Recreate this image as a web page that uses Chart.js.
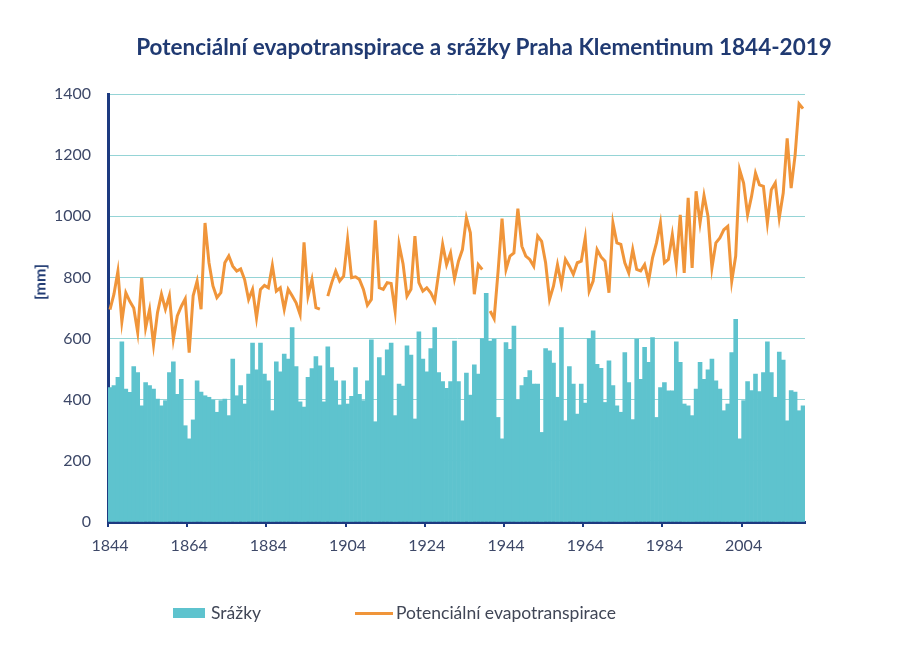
<!DOCTYPE html>
<html>
<head>
<meta charset="utf-8">
<script src="https://cdn.jsdelivr.net/npm/chart.js@4.4.1/dist/chart.umd.min.js"></script>
<style>
html,body{margin:0;padding:0;background:#ffffff;}
#wrap{position:relative;width:904px;height:645px;overflow:hidden;font-family:Lato,"Open Sans",sans-serif;}
#c{position:absolute;left:0;top:0;}
#title{position:absolute;left:84px;width:800px;top:33px;text-align:center;font-weight:bold;font-size:22.5px;line-height:28px;color:#203a72;white-space:nowrap;}
#ytitle{position:absolute;left:39px;top:282px;transform:translate(-50%,-50%) rotate(-90deg);font-weight:bold;font-size:16px;color:#203a72;white-space:nowrap;}
.lg{position:absolute;font-size:17.5px;line-height:22px;color:#404656;white-space:nowrap;}
</style>
</head>
<body>
<div id="wrap">
<canvas id="c" width="904" height="645"></canvas>
<div id="title">Potenciální evapotranspirace a srážky Praha Klementinum 1844-2019</div>
<div id="ytitle">[mm]</div>
<div style="position:absolute;left:173px;top:608px;width:32px;height:10px;background:#5ec3ce;"></div>
<div class="lg" style="left:211px;top:602px;">Srážky</div>
<div style="position:absolute;left:355px;top:612px;width:38px;height:3px;background:#f0953a;"></div>
<div class="lg" style="left:396px;top:602px;">Potenciální evapotranspirace</div>
</div>
<script>
const firstYear = 1844;
const lastYear = 2019;
const years = [];
for (let y = firstYear; y <= lastYear; y++) years.push(y);

const tickYears = [1844, 1864, 1884, 1904, 1924, 1944, 1964, 1984, 2004];
const yTicks = [0, 200, 400, 600, 800, 1000, 1200, 1400];

// Srážky (precipitation) [mm], 1844-2019
const precip = [
 440,446,473,589,435,424,508,489,380,456,   // 1844-1853
 446,435,402,380,397,489,524,418,467,315,   // 1854-1863
 272,334,462,425,413,408,399,359,397,402,   // 1864-1873
 348,533,413,446,386,484,585,498,585,484,   // 1874-1883
 462,364,524,491,549,533,636,508,393,376,   // 1884-1893
 473,502,541,511,393,573,505,462,383,462,   // 1894-1903
 386,411,505,418,397,462,596,328,538,479,   // 1904-1913
 563,585,348,451,445,576,546,337,622,533,   // 1914-1923
 491,567,636,489,459,437,459,592,459,331,   // 1924-1933
 487,415,514,484,600,748,592,598,342,272,   // 1934-1943
 587,565,641,400,446,473,495,451,451,293,   // 1944-1953
 567,560,520,408,636,331,508,451,353,451,   // 1954-1963
 389,600,625,516,503,391,527,446,380,359,   // 1964-1973
 554,456,335,598,467,571,522,603,342,440,   // 1974-1983
 456,429,429,589,522,386,380,348,435,522,   // 1984-1993
 467,498,533,462,435,364,386,554,663,272,   // 1994-2003
 397,459,430,484,427,489,589,489,408,556,   // 2004-2013
 530,331,430,425,364,380                    // 2014-2019
];

// Potenciální evapotranspirace [mm], 1844-2019 (null = missing year)
const pet = [
 695,745,820,655,750,722,700,620,799,635,   // 1844-1853
 695,580,685,745,696,740,598,674,705,730,   // 1854-1863
 554,740,788,696,978,848,772,734,750,848,   // 1864-1873
 870,837,821,828,793,728,761,668,761,774,   // 1874-1883
 766,839,755,766,696,761,740,717,679,915,   // 1884-1893
 739,793,701,696,null,739,783,821,788,804,  // 1894-1903
 924,799,802,793,761,709,728,987,766,761,   // 1904-1913
 783,780,690,908,845,739,761,935,783,755,   // 1914-1923
 766,750,723,815,908,842,880,796,853,891,   // 1924-1933
 995,946,745,842,826,null,690,665,820,992,  // 1934-1943
 826,870,880,1025,902,870,859,837,935,918,  // 1944-1953
 848,728,772,842,777,859,837,810,848,853,   // 1954-1963
 929,755,788,891,867,853,750,978,913,908,   // 1964-1973
 848,815,891,826,821,842,788,864,913,978,   // 1974-1983
 848,859,940,842,1005,815,1060,831,1082,978, // 1984-1993
 1068,1000,831,913,929,956,967,788,870,1152, // 1994-2003
 1109,1005,1065,1141,1103,1098,978,1087,1109,995, // 2004-2013
 1076,1255,1092,1200,1368,1352              // 2014-2019
];

const NAVY = '#1d3a80';
const TEXT = '#3d4868';
const GRID = '#95d4d6';
const TEAL = '#5ec3ce';
const ORANGE = '#f0953a';

Chart.defaults.font.family = 'Lato, "Open Sans", sans-serif';

new Chart(document.getElementById('c'), {
  data: {
    labels: years,
    datasets: [
      {
        type: 'line',
        label: 'Potenciální evapotranspirace',
        data: pet,
        borderColor: ORANGE,
        backgroundColor: ORANGE,
        borderWidth: 3,
        pointRadius: 0,
        tension: 0,
        spanGaps: false,
        order: 1
      },
      {
        type: 'bar',
        label: 'Srážky',
        data: precip,
        backgroundColor: TEAL,
        borderWidth: 0,
        barPercentage: 1,
        categoryPercentage: 1,
        order: 2
      }
    ]
  },
  options: {
    responsive: false,
    animation: false,
    layout: { padding: { left: 28, right: 99, top: 94, bottom: 83 } },
    plugins: {
      legend: { display: false },
      title: { display: false },
      tooltip: { enabled: false }
    },
    scales: {
      x: {
        type: 'category',
        offset: true,
        grid: {
          offset: true,
          drawOnChartArea: false,
          drawTicks: true,
          tickLength: 5,
          lineWidth: 2,
          color: (c) => tickYears.includes(years[c.index]) ? NAVY : 'rgba(0,0,0,0)'
        },
        border: { display: true, color: NAVY, width: 3 },
        ticks: {
          autoSkip: false,
          maxRotation: 0,
          minRotation: 0,
          padding: 9,
          color: TEXT,
          font: { size: 16 },
          callback: function (val, idx) {
            const y = years[idx];
            return tickYears.includes(y) ? String(y) : '';
          }
        },
        afterFit: (s) => { s.height = 40; }
      },
      y: {
        min: 0,
        max: 1400,
        afterBuildTicks: (s) => { s.ticks = yTicks.map(v => ({ value: v })); },
        ticks: {
          padding: 17,
          color: TEXT,
          font: { size: 16 },
          callback: (v) => String(v)
        },
        grid: {
          drawTicks: false,
          lineWidth: 1,
          color: (c) => (c.tick && c.tick.value === 0) ? 'rgba(0,0,0,0)' : GRID
        },
        border: { display: true, color: NAVY, width: 3 },
        afterFit: (s) => { s.width = 80; }
      }
    }
  }
});
</script>
</body>
</html>
